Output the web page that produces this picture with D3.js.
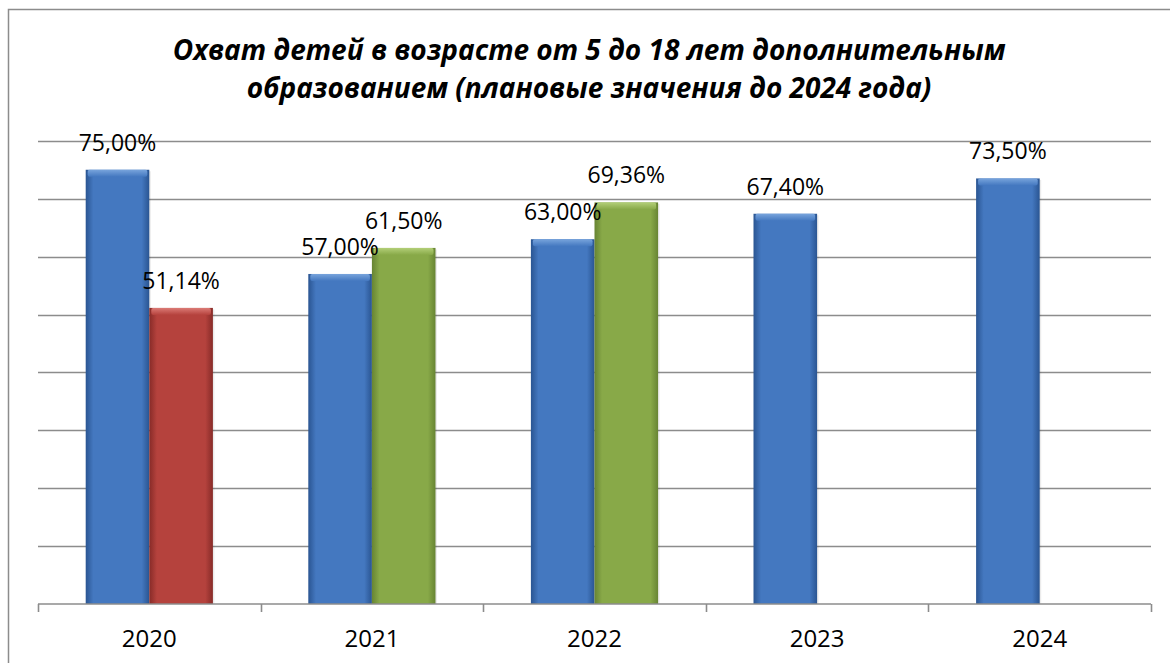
<!DOCTYPE html>
<html><head><meta charset="utf-8">
<script src="https://cdn.jsdelivr.net/npm/d3@7"></script>
<style>html,body{margin:0;padding:0;background:#fff;} svg{display:block;}</style>
</head><body>
<svg id="chart" width="1170" height="663"></svg>
<script>
const years = ["2020", "2021", "2022", "2023", "2024"];
const planValues = [75.00, 57.00, 63.00, 67.40, 73.50];
const factValues = [51.14, 61.50, 69.36, null, null];
const seriesNames = ["plan", "fact"];
const yTicks = [0, 10, 20, 30, 40, 50, 60, 70, 80];
const titleLines = ["Охват детей в возрасте от 5 до 18 лет дополнительным",
                    "образованием (плановые значения до 2024 года)"];
const factColorKeys = ["red", "green", "green", null, null];

const palette = {
  blue:  {mid: "#4478c0", edge: "#2a5592", top: "#78a4dc"},
  red:   {mid: "#b5423d", edge: "#872b28", top: "#dc7b76"},
  green: {mid: "#88a948", edge: "#678433", top: "#b3cf78"}
};

const W = 1170, H = 663;
const left = 38, right = 1151, baseY = 604, topY = 140.8;
const svg = d3.select("#chart");
const defs = svg.append("defs");

Object.entries(palette).forEach(([k, c]) => {
  const g = defs.append("linearGradient").attr("id", "g-" + k)
    .attr("x1", "0").attr("x2", "1").attr("y1", "0").attr("y2", "0");
  g.append("stop").attr("offset", "0").attr("stop-color", c.edge);
  g.append("stop").attr("offset", "0.12").attr("stop-color", c.mid);
  g.append("stop").attr("offset", "0.5").attr("stop-color", c.mid);
  g.append("stop").attr("offset", "0.88").attr("stop-color", c.mid);
  g.append("stop").attr("offset", "1").attr("stop-color", c.edge);
  const t = defs.append("linearGradient").attr("id", "t-" + k)
    .attr("x1", "0").attr("x2", "0").attr("y1", "0").attr("y2", "1");
  t.append("stop").attr("offset", "0").attr("stop-color", c.top);
  t.append("stop").attr("offset", "1").attr("stop-color", c.mid);
});

svg.append("rect").attr("width", W).attr("height", H).attr("fill", "#fff");
// outer chart border (extends past the window on right/bottom)
svg.append("rect").attr("x", 8.5).attr("y", 9.5).attr("width", 1300).attr("height", 800)
  .attr("fill", "none").attr("stroke", "#8c8c8c").attr("stroke-width", 1.5);

const x = d3.scaleBand().domain(years).range([left, right]).paddingInner(0).paddingOuter(0);
const xs = d3.scaleBand().domain(seriesNames).range([0, x.bandwidth()]).paddingInner(0).paddingOuter(0.75);
const y = d3.scaleLinear().domain([0, 80]).range([baseY, topY]);

// gridlines
svg.append("g").selectAll("line").data(yTicks.filter(v => v > 0)).join("line")
  .attr("x1", left).attr("x2", right)
  .attr("y1", d => Math.round(y(d)) + 0.5).attr("y2", d => Math.round(y(d)) + 0.5)
  .attr("stroke", "#8c8c8c").attr("stroke-width", 1.6);

// title
svg.append("g").selectAll("text").data(titleLines).join("text")
  .attr("x", 589).attr("y", (d, i) => 60 + i * 38)
  .attr("text-anchor", "middle")
  .attr("font-family", "'Open Sans','Noto Sans',sans-serif")
  .attr("font-weight", "bold").attr("font-style", "italic")
  .attr("font-size", 28).attr("fill", "#000")
  .text(d => d);

// bars
const bars = [];
years.forEach((yr, i) => {
  bars.push({year: yr, s: "plan", v: planValues[i], c: "blue"});
  if (factValues[i] != null) bars.push({year: yr, s: "fact", v: factValues[i], c: factColorKeys[i]});
});

const bg = svg.append("g");
bars.forEach(b => {
  const bx = x(b.year) + xs(b.s), bw = xs.bandwidth();
  const by = y(b.v), bh = baseY - by;
  bg.append("rect").attr("x", bx + 1.5).attr("y", by + 1.5).attr("width", bw).attr("height", bh - 1.5)
    .attr("fill", "#000").attr("opacity", 0.08);
  bg.append("rect").attr("x", bx).attr("y", by).attr("width", bw).attr("height", bh)
    .attr("fill", `url(#g-${b.c})`);
  bg.append("rect").attr("x", bx + 2).attr("y", by).attr("width", bw - 4).attr("height", 7)
    .attr("rx", 2).attr("fill", `url(#t-${b.c})`);
});

// value labels
const fmt = v => v.toFixed(2).replace(".", ",") + "%";
svg.append("g").selectAll("text").data(bars).join("text")
  .attr("x", d => x(d.year) + xs(d.s) + xs.bandwidth() / 2)
  .attr("y", d => y(d.v) - 19)
  .attr("text-anchor", "middle")
  .attr("font-family", "'Open Sans','Noto Sans',sans-serif")
  .attr("font-size", 23).attr("fill", "#000")
  .text(d => fmt(d.v));

// x axis
const axisG = svg.append("g").attr("transform", `translate(0,${baseY})`)
  .call(d3.axisBottom(x).tickSize(0).tickPadding(26));
axisG.select(".domain").attr("stroke", "#8c8c8c").attr("stroke-width", 1.6)
  .attr("d", `M${left},0H${right}`);
axisG.selectAll(".tick text").attr("font-family", "'Open Sans','Noto Sans',sans-serif")
  .attr("font-size", 24).attr("fill", "#000");
const bounds = years.map(d => x(d)).concat([right]);
axisG.append("g").selectAll("line").data(bounds).join("line")
  .attr("x1", d => Math.round(d) + 0.5).attr("x2", d => Math.round(d) + 0.5)
  .attr("y1", 0).attr("y2", 8).attr("stroke", "#8c8c8c").attr("stroke-width", 1.6);
</script>
</body></html>
